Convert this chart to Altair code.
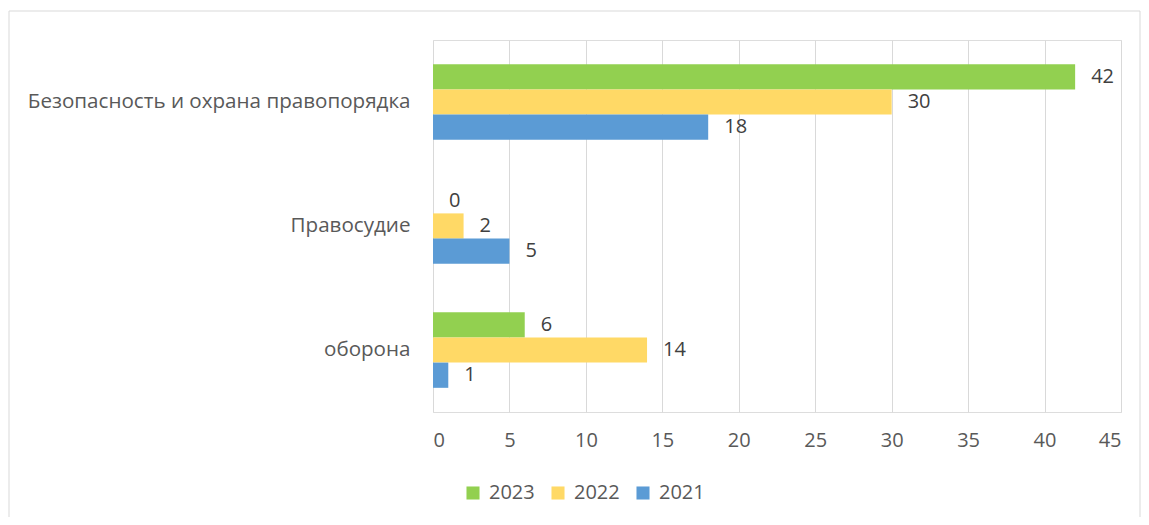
import altair as alt
import pandas as pd

categories = ["Безопасность и охрана правопорядка", "Правосудие", "оборона"]
years = ["2023", "2022", "2021"]
values_2023 = [42, 0, 6]
values_2022 = [30, 2, 14]
values_2021 = [18, 5, 1]
colors = ["#92D050", "#FFD966", "#5B9BD5"]

rows = []
for yr, vals in zip(years, [values_2023, values_2022, values_2021]):
    for c, v in zip(categories, vals):
        rows.append({"cat": c, "year": yr, "value": v})
df = pd.DataFrame(rows)

FONT = "Open Sans"
TXT = "#595959"

y_enc = alt.Y("cat:N", sort=categories, title=None,
              scale=alt.Scale(paddingInner=0.39, paddingOuter=0.195),
              axis=alt.Axis(labelFontSize=20.6, labelColor=TXT, labelFont=FONT,
                            ticks=False, domain=False, labelPadding=23, labelLimit=600))
yo_enc = alt.YOffset("year:N", sort=years)

bars = alt.Chart(df).mark_bar().encode(
    x=alt.X("value:Q", title=None,
            scale=alt.Scale(domain=[0, 45], nice=False),
            axis=alt.Axis(values=list(range(0, 50, 5)), labelFontSize=20, labelColor=TXT,
                          labelFont=FONT, ticks=False, domain=False, labelPadding=18,
                          grid=True, gridColor="#D9D9D9", gridWidth=1)),
    y=y_enc,
    yOffset=yo_enc,
    color=alt.Color("year:N", sort=years,
                    scale=alt.Scale(domain=years, range=colors),
                    legend=alt.Legend(title=None, orient="none", direction="horizontal",
                                      legendX=30, legendY=443,
                                      symbolType="square", symbolSize=170,
                                      labelFontSize=20, labelColor=TXT, labelFont=FONT,
                                      columnPadding=13, labelOffset=6, symbolStrokeWidth=0)),
)

labels = alt.Chart(df).mark_text(align="left", baseline="middle", dx=16,
                                 fontSize=20, font=FONT, color="#404040").encode(
    x="value:Q",
    y=alt.Y("cat:N", sort=categories),
    yOffset=yo_enc,
    text="value:Q",
)

border = alt.Chart(pd.DataFrame({"a": [0]})).mark_rect(
    fill=None, stroke="#D9D9D9", strokeWidth=1).encode(
    x=alt.value(-424), x2=alt.value(707), y=alt.value(-29), y2=alt.value(520))

chart = alt.layer(bars, labels, border).properties(
    width=688, height=372,
    autosize=alt.AutoSizeParams(type="none"),
    padding={"left": 425, "top": 32, "right": 20, "bottom": 105},
).configure_view(stroke=None).configure(font=FONT)

chart.save("out.html", embed_options={"renderer": "svg", "actions": False})
